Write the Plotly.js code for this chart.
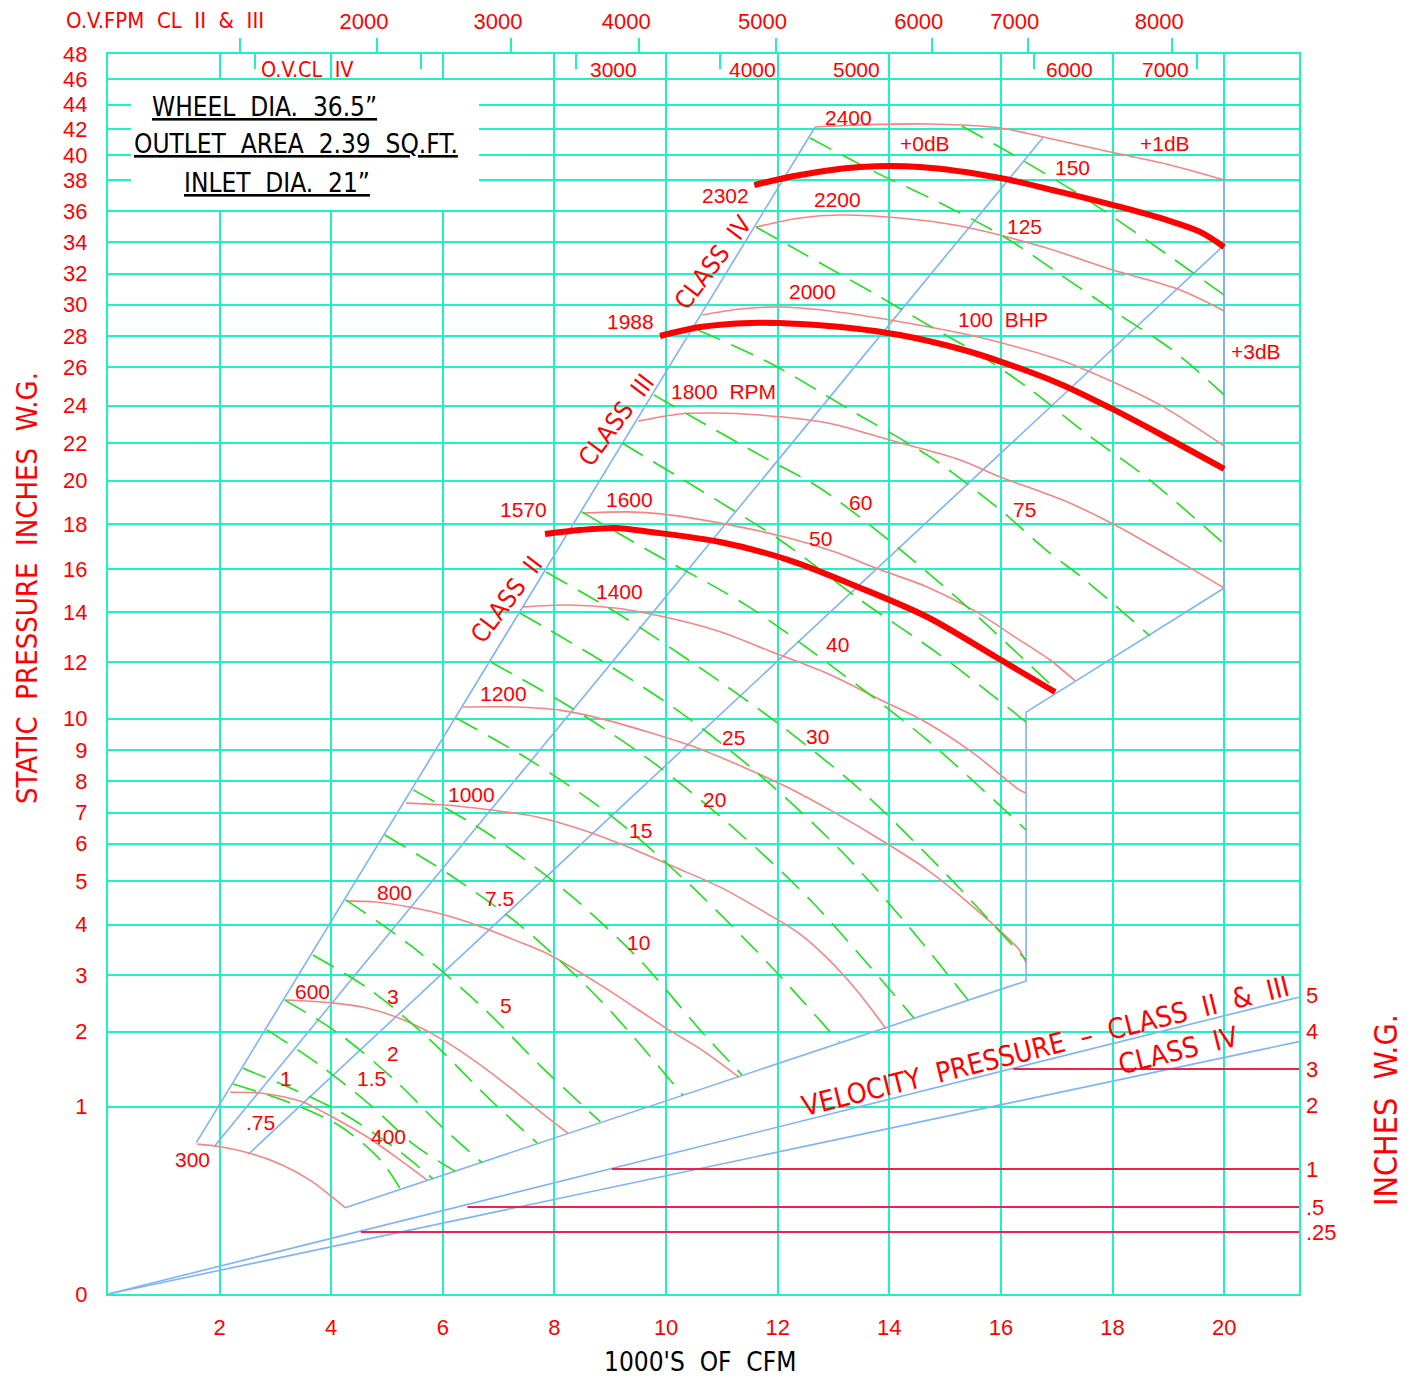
<!DOCTYPE html>
<html><head><meta charset="utf-8">
<script src="https://cdn.plot.ly/plotly-3.0.1.min.js"></script>
<style>html,body{margin:0;padding:0;background:#fff}</style>
</head><body>
<div id="chart" style="width:1418px;height:1379px"></div>
<script>
// ---------- axis scales (the original static-pressure grid is unevenly spaced) ----------
const SP_SCALE_VALUES = [0,1,2,3,4,5,6,7,8,9,10,12,14,16,18,20,22,24,26,28,30,32,34,36,38,40,42,44,46,48];
const SP_SCALE_UNITS  = [0,187.5,262.4,318.7,369.3,413,450.3,481.4,513,544.2,575.4,632,681.7,725,769.6,813.4,851,888.5,927,958,989.5,1020.5,1052,1083,1114,1139,1165,1189.5,1215,1240];
const VP_SCALE_VALUES = [0,0.25,0.5,1,2,3,4,5];
const VP_SCALE_UNITS  = [0,62,87,125,189,225,263,299];

// ---------- axis ticks ----------
const X_MAX = 21.34;
const X_TICKS = [2,4,6,8,10,12,14,16,18,20];
const OV_CL23_FPM = [1000,2000,3000,4000,5000,6000,7000,8000];
const OV_CL23_CFM = [2.37,4.82,7.22,9.52,11.96,14.76,16.48,19.07];
const OV_CL4_TICK_CFM = [2.63,5.61,8.39,10.97,16.60,19.52];
const OV_CL4_LABELS = ['O.V.CL\u00a0\u00a0IV','3000','4000','5000','6000','7000'];
const OV_CL4_LABEL_CFM = [3.58,9.05,11.54,13.41,17.22,18.94];
const VP_TICKS = [5,4,3,2,1,0.5,0.25];
const VP_TICK_TEXT = ['5','4','3','2','1','.5','.25'];

// ---------- fan curves (CFM in 1000's, static pressure in. W.G.) ----------
const CFM_300 = [1.60,2.01,2.54,3.14,3.62,4.01,4.25];
const SP_300  = [0.67,0.65,0.60,0.51,0.41,0.31,0.25];
const CFM_400 = [2.19,2.72,3.14,3.49,4.03,4.64,5.23,5.72];
const SP_400  = [1.19,1.18,1.13,1.06,0.90,0.73,0.55,0.41];
const CFM_600 = [3.17,4.01,4.64,5.29,6.00,6.72,7.33,7.92,8.24];
const SP_600  = [2.56,2.51,2.42,2.21,1.89,1.53,1.18,0.88,0.76];
const CFM_800 = [4.28,4.80,5.38,6.04,6.68,7.28,7.85,8.82,10.05,10.65,11.31];
const SP_800  = [4.54,4.52,4.41,4.22,3.96,3.70,3.44,2.83,2.03,1.75,1.39];
const CFM_1000 = [5.34,6.04,6.86,7.69,8.51,9.32,10.14,10.97,11.79,12.37,12.87,13.41,13.94];
const SP_1000  = [7.30,7.24,7.08,6.86,6.44,5.91,5.38,4.86,4.27,3.84,3.36,2.74,2.05];
const CFM_1200 = [6.36,7.28,8.10,8.92,9.73,10.56,11.38,12.20,13.03,13.85,14.68,15.50,16.33,16.45];
const SP_1200  = [10.41,10.41,10.30,9.96,9.54,9.06,8.45,7.78,6.99,6.12,5.30,4.41,3.50,3.24];
const CFM_1400 = [7.44,8.26,9.09,9.98,10.97,11.95,12.87,13.85,14.68,15.50,16.33,16.45];
const SP_1400  = [14.25,14.34,14.20,13.81,13.22,12.36,11.61,10.66,9.86,8.90,7.72,7.62];
const CFM_1600 = [8.51,9.32,9.91,10.97,12.20,13.03,13.85,14.68,15.50,16.33,16.88,17.33];
const SP_1600  = [18.52,18.57,18.48,18.06,17.39,16.76,15.95,15.17,14.11,12.89,12.08,11.33];
const CFM_1800 = [9.50,10.25,10.82,11.68,12.90,14.01,15.27,15.99,17.11,18.01,19.09,20.00];
const SP_1800  = [23.17,23.55,23.60,23.49,23.07,22.16,21.10,20.19,19.11,18.02,16.49,15.12];
const CFM_2000 = [10.65,11.33,12.04,12.94,14.01,15.27,16.02,17.06,18.01,18.85,20.00];
const SP_2000  = [29.33,29.71,29.84,29.59,29.02,28.19,27.55,26.45,25.22,24.03,21.84];
const CFM_2200 = [11.61,12.40,13.12,14.19,15.27,16.76,18.01,19.21,20.00];
const SP_2200  = [34.97,35.55,35.74,35.55,35.03,33.68,32.22,30.94,29.59];
const CFM_2400 = [12.67,13.48,14.73,15.99,16.76,17.96,19.03,20.00];
const SP_2400  = [42.16,42.33,42.41,42.08,41.38,40.23,39.20,38.00];

// maximum RPM per class (heavy curves)
const CFM_1570 = [7.83,8.46,9.09,9.73,10.97,12.20,13.44,14.68,15.91,16.97];
const SP_1570  = [17.57,17.75,17.84,17.66,17.21,16.40,15.17,13.81,12.20,10.94];
const CFM_1988 = [9.89,10.61,11.51,12.40,13.30,14.19,15.27,16.02,17.06,17.96,18.85,20.00];
const SP_1988  = [28.00,28.57,28.83,28.76,28.51,28.06,27.16,26.32,25.12,23.87,22.48,20.62];
const CFM_2302 = [11.58,12.40,13.48,14.55,15.99,17.06,18.14,19.03,19.57,20.00];
const SP_2302  = [37.68,38.40,39.04,39.04,38.16,37.23,36.26,35.35,34.65,33.68];

// ---------- brake horsepower lines ----------
const BHP_075_CFM = [2.24,3.26,4.16,4.88,5.23];  const BHP_075_SP = [1.30,1.05,0.82,0.55,0.36];
const BHP_1_CFM   = [2.42,3.26,4.16,5.14,5.82];  const BHP_1_SP   = [1.51,1.25,0.95,0.64,0.42];
const BHP_15_CFM  = [2.85,3.80,4.70,5.50,6.22];  const BHP_15_SP  = [2.03,1.55,1.02,0.66,0.47];
const BHP_2_CFM   = [3.17,4.16,5.14,5.95,6.70];  const BHP_2_SP   = [2.56,1.96,1.35,0.83,0.53];
const BHP_3_CFM   = [3.67,4.70,5.77,6.85,7.69];  const BHP_3_SP   = [3.40,2.74,1.89,1.09,0.68];
const BHP_5_CFM   = [4.26,5.41,6.67,7.74,8.82];  const BHP_5_SP   = [4.57,3.60,2.47,1.55,0.86];
const BHP_75_CFM  = [4.96,6.13,7.38,8.82,10.30]; const BHP_75_SP  = [6.28,5.16,3.99,2.56,1.15];
const BHP_10_CFM  = [5.47,6.85,8.28,9.53,10.61,11.36]; const BHP_10_SP = [7.72,6.28,4.68,3.30,2.03,1.42];
const BHP_15H_CFM = [6.24,7.56,9.00,10.43,11.86,13.10]; const BHP_15H_SP = [10.02,8.67,6.92,4.91,3.20,1.86];
const BHP_20_CFM  = [6.86,8.28,9.71,11.15,12.58,14.44]; const BHP_20_SP = [12.00,10.41,8.67,6.60,4.57,2.24];
const BHP_25_CFM  = [7.38,8.82,10.25,11.68,13.12,14.28,15.41]; const BHP_25_SP = [13.97,12.08,10.23,8.19,5.83,4.06,2.56];
const BHP_30_CFM  = [7.85,9.18,10.61,12.04,13.48,14.91,16.45]; const BHP_30_SP = [15.86,13.89,11.79,9.80,7.72,5.35,3.30];
const BHP_40_CFM  = [8.49,9.73,11.43,13.06,14.68,16.45]; const BHP_40_SP = [18.57,16.76,14.34,11.72,9.31,6.44];
const BHP_50_CFM  = [9.21,10.61,12.04,13.48,14.91,16.45]; const BHP_50_SP = [22.00,19.57,17.30,14.57,12.28,9.89];
const BHP_60_CFM  = [9.78,10.66,11.74,12.81,14.91,17.03]; const BHP_60_SP = [24.55,23.07,21.26,19.57,15.35,10.94];
const BHP_75H_CFM = [10.57,11.86,13.30,14.73,15.99,16.81,17.51,18.67]; const BHP_75H_SP = [28.38,26.26,23.76,21.26,18.66,16.85,15.49,13.05];
const BHP_100_CFM = [11.61,12.76,13.84,14.91,15.54,16.49,17.56,18.62,20.00]; const BHP_100_SP = [34.97,32.67,30.48,28.25,26.97,24.91,22.43,20.14,17.12];
const BHP_125_CFM = [12.58,13.67,14.91,16.09,17.13,18.10,19.07,20.00]; const BHP_125_SP = [41.31,38.80,36.52,34.26,31.77,29.40,27.10,24.55];
const BHP_150_CFM = [15.30,16.38,17.53,18.94,20.00]; const BHP_150_SP = [42.24,39.60,36.77,33.30,30.61];

// ---------- class limit / system lines / operating boundary ----------
const LIMIT_LEFT_CFM = [1.58,12.67]; const LIMIT_LEFT_SP = [0.68,42.16];
const SYS_A_CFM = [1.90,16.76];      const SYS_A_SP = [0.65,41.38];
const SYS_B_CFM = [2.51,20.00];      const SYS_B_SP = [0.59,33.81];
const LIMIT_RIGHT_CFM = [20.00,20.00,16.45,16.45,4.25];
const LIMIT_RIGHT_SP  = [38.00,15.12,10.23,2.90,0.25];

// ---------- velocity pressure (right axis, in. W.G.) ----------
const VP_CFM = [0,21.34];
const VP_CL23 = [0,4.94];
const VP_CL4  = [0,3.72];
const VP_MARK_VALUES = [3,1,0.5,0.25];
const VP_MARK_FROM_CFM = [16.22,9.03,6.44,4.53];

// ---------- labels ----------
const RPM_LABELS = ['300','400','600','800','1000','1200','1400','1600','1800\u00a0\u00a0RPM','2000','2200','2400','1570','1988','2302'];
const RPM_LABEL_CFM = [1.52,5.02,3.67,5.14,6.52,7.08,9.16,9.34,11.02,12.62,13.07,13.26,7.44,9.37,11.06];
const RPM_LABEL_SP  = [0.55,0.73,2.72,4.73,7.56,10.87,14.94,19.16,24.75,30.87,36.77,42.98,18.66,28.95,36.97];
const BHP_LABELS = ['.75','1','1.5','2','3','5','7.5','10','15','20','25','30','40','50','60','75','100\u00a0\u00a0BHP','125','150','+0dB','+1dB','+3dB'];
const BHP_LABEL_CFM = [2.74,3.19,4.73,5.11,5.11,7.13,7.01,9.50,9.55,10.86,11.20,12.72,13.07,12.76,13.48,16.43,16.04,16.43,17.28,14.64,18.94,20.57];
const BHP_LABEL_SP  = [0.85,1.37,1.37,1.71,2.63,2.46,4.59,3.64,6.44,7.40,9.38,9.44,12.72,17.35,18.98,18.70,29.02,35.03,39.04,40.92,40.92,26.97];
const CLASS_LABELS = ['CLASS\u00a0\u00a0II','CLASS\u00a0\u00a0III','CLASS\u00a0\u00a0IV'];
const CLASS_LABEL_CFM = [7.15,9.12,10.84];
const CLASS_LABEL_SP  = [14.57,23.23,32.73];

// ================= scale helpers =================
function interp(v, vals, units){
  if (v <= vals[0]) return units[0];
  for (let i = 1; i < vals.length; i++){
    if (v <= vals[i]){ const t = (v - vals[i-1])/(vals[i]-vals[i-1]); return units[i-1] + t*(units[i]-units[i-1]); }
  }
  const n = vals.length-1;
  return units[n] + (v-vals[n])*(units[n]-units[n-1])/(vals[n]-vals[n-1]);
}
function spPos(v){ return v < 1 ? SP_SCALE_UNITS[1]*Math.pow(Math.max(v,0),0.56) : interp(v, SP_SCALE_VALUES, SP_SCALE_UNITS); }
function vpPos(r){ return interp(r, VP_SCALE_VALUES, VP_SCALE_UNITS); }

const RED = '#ff0000', GRID = '#1ff2c0', BLUE = '#7db3fa', SALMON = '#f58585', GREEN = '#1ee01e', VPRED = '#f0204e';
const REG = "'Liberation Sans', Arial, sans-serif";
const NARROW = "'Liberation Sans Narrow','DejaVu Sans Condensed','Roboto Condensed','Arial Narrow',sans-serif";

const traces = [];
function addLine(xs, ys, color, width, opts){
  opts = opts || {};
  traces.push({type:'scatter', mode:'lines', x:xs, y:ys.map(opts.vp ? vpPos : spPos),
    xaxis:'x', yaxis: opts.vp ? 'y2' : 'y',
    line:{color:color, width:width, dash:opts.dash||'solid', shape:opts.spline?'spline':'linear', smoothing:0.9},
    hoverinfo:'skip', showlegend:false});
}
// velocity pressure
addLine(VP_CFM, VP_CL23, BLUE, 1.6, {vp:true});
addLine(VP_CFM, VP_CL4, BLUE, 1.6, {vp:true});
VP_MARK_VALUES.forEach((v,i)=> addLine([VP_MARK_FROM_CFM[i], X_MAX], [v,v], VPRED, 2.2, {vp:true}));
// class and system lines
addLine(LIMIT_LEFT_CFM, LIMIT_LEFT_SP, BLUE, 1.6);
addLine(SYS_A_CFM, SYS_A_SP, BLUE, 1.6);
addLine(SYS_B_CFM, SYS_B_SP, BLUE, 1.6);
addLine(LIMIT_RIGHT_CFM, LIMIT_RIGHT_SP, BLUE, 1.6);
// rpm curves
[[CFM_300,SP_300],[CFM_400,SP_400],[CFM_600,SP_600],[CFM_800,SP_800],[CFM_1000,SP_1000],[CFM_1200,SP_1200],
 [CFM_1400,SP_1400],[CFM_1600,SP_1600],[CFM_1800,SP_1800],[CFM_2000,SP_2000],[CFM_2200,SP_2200],[CFM_2400,SP_2400]]
 .forEach(c => addLine(c[0], c[1], SALMON, 1.6, {spline:true}));
// bhp
[[BHP_075_CFM,BHP_075_SP],[BHP_1_CFM,BHP_1_SP],[BHP_15_CFM,BHP_15_SP],[BHP_2_CFM,BHP_2_SP],[BHP_3_CFM,BHP_3_SP],
 [BHP_5_CFM,BHP_5_SP],[BHP_75_CFM,BHP_75_SP],[BHP_10_CFM,BHP_10_SP],[BHP_15H_CFM,BHP_15H_SP],[BHP_20_CFM,BHP_20_SP],
 [BHP_25_CFM,BHP_25_SP],[BHP_30_CFM,BHP_30_SP],[BHP_40_CFM,BHP_40_SP],[BHP_50_CFM,BHP_50_SP],[BHP_60_CFM,BHP_60_SP],
 [BHP_75H_CFM,BHP_75H_SP],[BHP_100_CFM,BHP_100_SP],[BHP_125_CFM,BHP_125_SP],[BHP_150_CFM,BHP_150_SP]]
 .forEach(c => addLine(c[0], c[1], GREEN, 1.6, {spline:true, dash:'24px,12px'}));
// class max rpm
[[CFM_1570,SP_1570],[CFM_1988,SP_1988],[CFM_2302,SP_2302]].forEach(c => addLine(c[0], c[1], RED, 6, {spline:true}));
// empty traces so the top axes are laid out
traces.push({type:'scatter', x:[], y:[], xaxis:'x2', yaxis:'y', showlegend:false, hoverinfo:'skip'});
traces.push({type:'scatter', x:[], y:[], xaxis:'x3', yaxis:'y', showlegend:false, hoverinfo:'skip'});

// ================= annotations =================
const ann = [];
function addText(text, x, y, size, opts){
  opts = opts || {};
  ann.push({text:text, x:x, y:y, xref:opts.xref||'x', yref:opts.yref||'y', showarrow:false,
    xanchor:'center', yanchor:'middle', textangle:opts.angle||0,
    font:{family:opts.family||REG, size:size, color:opts.color||RED}});
}
RPM_LABELS.forEach((t,i)=> addText(t, RPM_LABEL_CFM[i], spPos(RPM_LABEL_SP[i]), 21));
BHP_LABELS.forEach((t,i)=> addText(t, BHP_LABEL_CFM[i], spPos(BHP_LABEL_SP[i]), 21));
CLASS_LABELS.forEach((t,i)=> addText(t, CLASS_LABEL_CFM[i], spPos(CLASS_LABEL_SP[i]), 25, {family:NARROW, angle:-53}));
addText('VELOCITY\u00a0\u00a0PRESSURE\u00a0\u00a0\u2013\u00a0\u00a0CLASS\u00a0\u00a0II\u00a0\u00a0&\u00a0\u00a0III', 16.79, spPos(1.80), 28, {family:NARROW, angle:-14});
addText('CLASS\u00a0\u00a0IV', 19.18, spPos(1.75), 28, {family:NARROW, angle:-14});
// top axis captions
addText('O.V.FPM\u00a0\u00a0CL\u00a0\u00a0II\u00a0\u00a0&\u00a0\u00a0III', 0.0479, 1.0274, 22, {xref:'paper', yref:'paper', family:NARROW});
OV_CL4_LABELS.forEach((t,i)=> addText(t, OV_CL4_LABEL_CFM[i], 0.9879, i===0?21.5:21, {yref:'paper', family: i===0?NARROW:REG}));
// box text
addText('<u>WHEEL\u00a0\u00a0DIA.\u00a0\u00a036.5\u201d</u>', 0.1318, 0.9569, 26, {xref:'paper', yref:'paper', family:NARROW, color:'#000'});
addText('<u>OUTLET\u00a0\u00a0AREA\u00a0\u00a02.39\u00a0\u00a0SQ.FT.</u>', 0.1577, 0.9274, 26, {xref:'paper', yref:'paper', family:NARROW, color:'#000'});
addText('<u>INLET\u00a0\u00a0DIA.\u00a0\u00a021\u201d</u>', 0.1419, 0.8960, 26, {xref:'paper', yref:'paper', family:NARROW, color:'#000'});
// axis titles
addText('STATIC\u00a0\u00a0PRESSURE\u00a0\u00a0INCHES\u00a0\u00a0W.G.', -0.068, 0.5694, 29, {xref:'paper', yref:'paper', family:NARROW, angle:-90});
addText("1000'S\u00a0\u00a0OF\u00a0\u00a0CFM", 0.497, -0.0548, 26, {xref:'paper', yref:'paper', family:NARROW, color:'#000'});
addText('INCHES\u00a0\u00a0W.G.', 1.0731, 0.1484, 32, {xref:'paper', yref:'paper', family:NARROW, angle:-90});

const layout = {
  width:1418, height:1379, margin:{l:108, r:119, t:54, b:85},
  paper_bgcolor:'#ffffff', plot_bgcolor:'#ffffff', showlegend:false,
  xaxis:{range:[0,X_MAX], tickvals:X_TICKS, ticktext:X_TICKS.map(String), showgrid:true, gridcolor:GRID, gridwidth:2,
         zeroline:false, showline:true, mirror:true, linecolor:GRID, linewidth:2, ticks:'',
         tickfont:{family:REG, size:22, color:RED}, ticklabelstandoff:13, fixedrange:true},
  xaxis2:{overlaying:'x', side:'top', anchor:'y', range:[0,X_MAX], tickvals:OV_CL23_CFM,
          ticktext:OV_CL23_FPM.map((v,i)=> i===0 ? '' : String(v)), ticks:'outside', ticklen:15, tickwidth:2, tickcolor:GRID,
          showgrid:false, zeroline:false, showline:false, tickfont:{family:REG, size:22, color:RED}, ticklabelshift:-13, fixedrange:true},
  xaxis3:{overlaying:'x', side:'top', anchor:'y', range:[0,X_MAX], tickvals:OV_CL4_TICK_CFM, ticks:'inside', ticklen:15,
          tickwidth:2, tickcolor:GRID, showticklabels:false, showgrid:false, zeroline:false, showline:false, fixedrange:true},
  yaxis:{range:[0, spPos(48)], tickvals:SP_SCALE_VALUES.map(spPos), ticktext:SP_SCALE_VALUES.map(String),
         showgrid:true, gridcolor:GRID, gridwidth:2, zeroline:false, showline:true, mirror:true, linecolor:GRID, linewidth:2,
         ticks:'', tickfont:{family:REG, size:22, color:RED}, ticklabelstandoff:14, fixedrange:true},
  yaxis2:{overlaying:'y', side:'right', anchor:'x', range:[0, spPos(48)], tickvals:VP_TICKS.map(vpPos), ticktext:VP_TICK_TEXT,
          showgrid:false, zeroline:false, showline:false, ticks:'', tickfont:{family:REG, size:22, color:RED}, ticklabelstandoff:6, fixedrange:true},
  shapes:[{type:'rect', xref:'paper', yref:'paper', x0:0.0193, x1:0.3115, y0:0.8742, y1:0.979,
           fillcolor:'#ffffff', line:{width:0}, layer:'above'}],
  annotations: ann
};
Plotly.newPlot('chart', traces, layout, {displayModeBar:false, staticPlot:true});
</script>
</body></html>
